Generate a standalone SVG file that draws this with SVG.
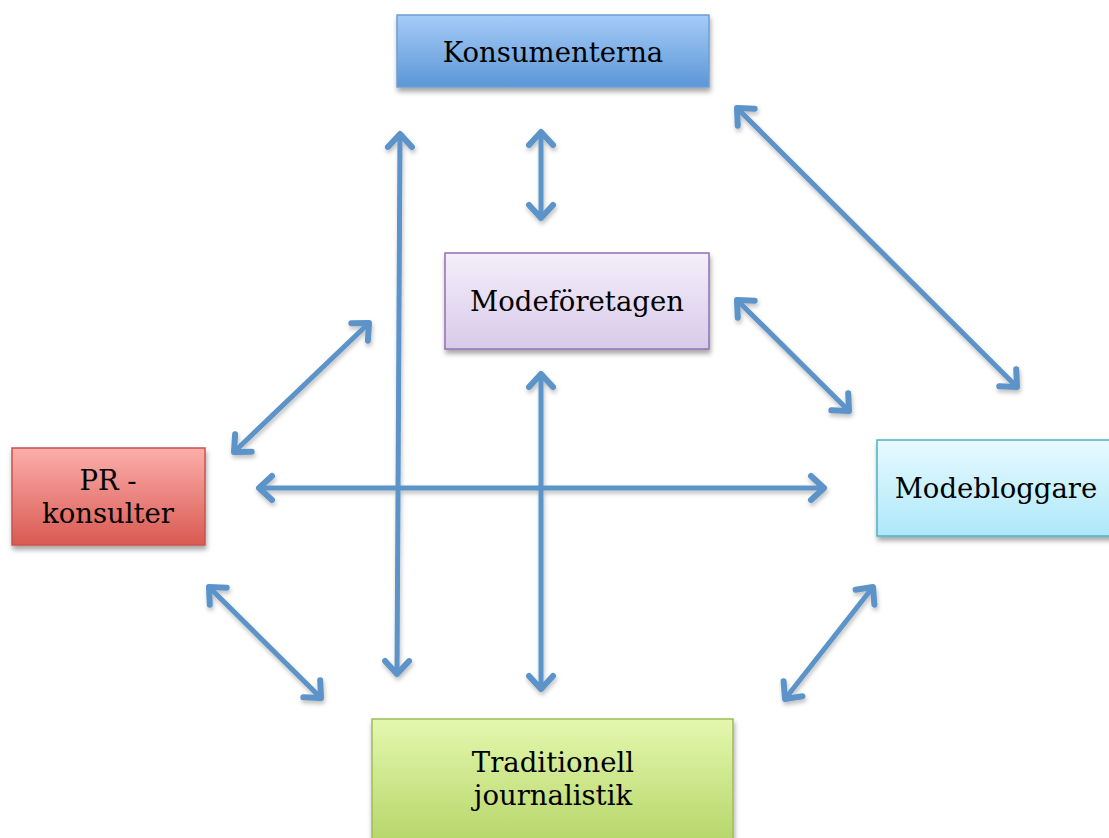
<svg xmlns="http://www.w3.org/2000/svg" width="1109" height="838" viewBox="0 0 1109 838">
<style>
.lbl{font-family:"DejaVu Serif","Liberation Serif",serif;font-size:27.5px;fill:#000;text-anchor:middle}
.box{stroke-width:1.5}
.con line{stroke:#5b93c9;stroke-width:5;fill:none;marker-start:url(#ah);marker-end:url(#ah)}
</style>
<defs>
<linearGradient id="gB" x1="0" y1="0" x2="0" y2="1"><stop offset="0" stop-color="#a6ccf8"/><stop offset="1" stop-color="#5b96d6"/></linearGradient>
<linearGradient id="gP" x1="0" y1="0" x2="0" y2="1"><stop offset="0" stop-color="#f4effa"/><stop offset="1" stop-color="#d8cae9"/></linearGradient>
<linearGradient id="gR" x1="0" y1="0" x2="0" y2="1"><stop offset="0" stop-color="#fcaeab"/><stop offset="1" stop-color="#d95a52"/></linearGradient>
<linearGradient id="gC" x1="0" y1="0" x2="0" y2="1"><stop offset="0" stop-color="#e8faff"/><stop offset="1" stop-color="#ade8f9"/></linearGradient>
<linearGradient id="gG" x1="0" y1="0" x2="0" y2="1"><stop offset="0" stop-color="#e4f8ae"/><stop offset="1" stop-color="#b4d466"/></linearGradient>
<filter id="sh" x="-10%" y="-10%" width="125%" height="135%"><feDropShadow dx="1" dy="4" stdDeviation="2.5" flood-color="#000" flood-opacity="0.35"/></filter>
<filter id="ls" filterUnits="userSpaceOnUse" x="0" y="0" width="1109" height="838"><feDropShadow dx="1" dy="3" stdDeviation="2" flood-color="#000" flood-opacity="0.25"/></filter>
<marker id="ah" markerUnits="userSpaceOnUse" viewBox="-30 -20 40 40" refX="0" refY="0" markerWidth="40" markerHeight="40" orient="auto-start-reverse">
<path d="M-13,-12 L0,0 L-13,12" fill="none" stroke="#5b93c9" stroke-width="6" stroke-linecap="round" stroke-linejoin="round"/>
</marker>
</defs>
<rect width="1109" height="838" fill="#fff"/>
<g class="con" id="connectors" filter="url(#ls)">
<line x1="400" y1="134" x2="397" y2="674"/>
<line x1="541" y1="132" x2="541" y2="218"/>
<line x1="541" y1="374" x2="541" y2="689"/>
<line x1="259" y1="488" x2="824" y2="488"/>
<line x1="737" y1="108" x2="1017" y2="387"/>
<line x1="737" y1="300" x2="849" y2="411"/>
<line x1="369" y1="323" x2="234" y2="452"/>
<line x1="209" y1="587" x2="321" y2="698"/>
<line x1="873" y1="587" x2="785" y2="699"/>
</g>
<g id="konsumenterna">
<rect class="box" x="397" y="15" width="312" height="72" fill="url(#gB)" stroke="#6d9fd4" filter="url(#sh)"/>
<text class="lbl" x="553" y="62">Konsumenterna</text>
</g>
<g id="modeforetagen">
<rect class="box" x="445" y="253" width="264" height="96" fill="url(#gP)" stroke="#8e72b2" filter="url(#sh)"/>
<text class="lbl" x="577" y="311">Modeföretagen</text>
</g>
<g id="pr-konsulter">
<rect class="box" x="12" y="448" width="193" height="97" fill="url(#gR)" stroke="#c9534d" filter="url(#sh)"/>
<text class="lbl" x="108" y="490">PR -</text>
<text class="lbl" x="108" y="523">konsulter</text>
</g>
<g id="modebloggare">
<rect class="box" x="877" y="440" width="240" height="96" fill="url(#gC)" stroke="#4eb0c9" filter="url(#sh)"/>
<text class="lbl" x="996" y="498">Modebloggare</text>
</g>
<g id="traditionell-journalistik">
<rect class="box" x="372" y="719" width="361" height="130" fill="url(#gG)" stroke="#9dbd5b" filter="url(#sh)"/>
<text class="lbl" x="553" y="772">Traditionell</text>
<text class="lbl" x="553" y="805">journalistik</text>
</g>
</svg>
